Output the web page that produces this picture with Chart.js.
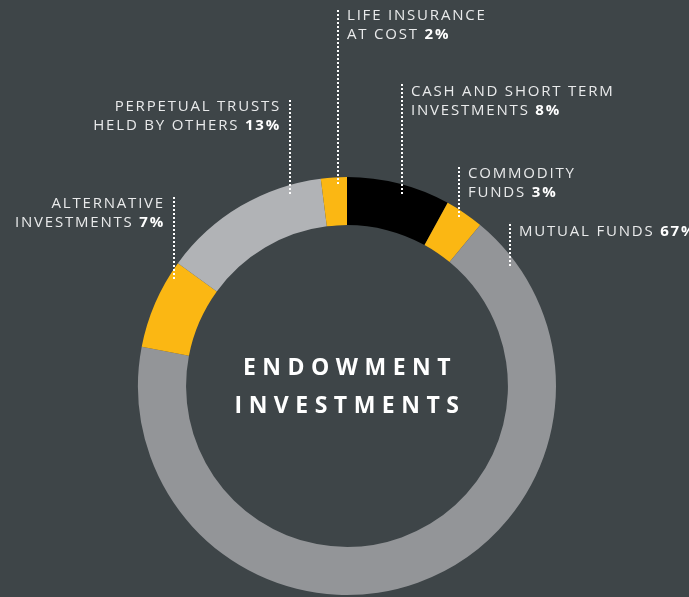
<!DOCTYPE html>
<html>
<head>
<meta charset="utf-8">
<script src="https://cdn.jsdelivr.net/npm/chart.js@4"></script>
<style>
  html, body { margin: 0; padding: 0; background: #3e4548; overflow: hidden; }
  canvas { display: block; }
</style>
</head>
<body>
<canvas id="endowment" width="689" height="597"></canvas>
<script>
// slices, clockwise from 12 o'clock
const categories = [
  'CASH AND SHORT TERM INVESTMENTS',
  'COMMODITY FUNDS',
  'MUTUAL FUNDS',
  'ALTERNATIVE INVESTMENTS',
  'PERPETUAL TRUSTS HELD BY OTHERS',
  'LIFE INSURANCE AT COST'
]
const values = [8, 3, 67, 7, 13, 2]
const sliceColors = ['#000000', '#fbb713', '#939598', '#fbb713', '#b1b3b6', '#fbb713']

// how each label is broken into lines (last line gets the bold percentage)
const labelLines = [
  ['CASH AND SHORT TERM', 'INVESTMENTS'],
  ['COMMODITY', 'FUNDS'],
  ['MUTUAL FUNDS'],
  ['ALTERNATIVE', 'INVESTMENTS'],
  ['PERPETUAL TRUSTS', 'HELD BY OTHERS'],
  ['LIFE INSURANCE', 'AT COST']
]

// callout placement: leader x, leader top/bottom, text x, first baseline, alignment
const callouts = [
  { lx: 402, y1: 84, y2: 194, tx: 411, ty: 96, align: 'left' },
  { lx: 459, y1: 167, y2: 219, tx: 468, ty: 178, align: 'left' },
  { lx: 510, y1: 224, y2: 265, tx: 519, ty: 236, align: 'left' },
  { lx: 174, y1: 197, y2: 278, tx: 165, ty: 208, align: 'right' },
  { lx: 290, y1: 100, y2: 195, tx: 281, ty: 111, align: 'right' },
  { lx: 338, y1: 10, y2: 186, tx: 347, ty: 20, align: 'left' }
]

const FONT = '"Open Sans", sans-serif'

const calloutPlugin = {
  id: 'callouts',
  afterDraw(chart) {
    const ctx = chart.ctx
    ctx.save()
    ctx.letterSpacing = '1.8px'
    callouts.forEach((c, i) => {
      // dotted leader
      ctx.fillStyle = '#ffffff'
      for (let y = c.y1; y < c.y2; y += 4) {
        ctx.fillRect(c.lx - 1, y, 2, 2)
      }
      const lines = labelLines[i]
      lines.forEach((line, j) => {
        const y = c.ty + j * 19
        const isLast = j === lines.length - 1
        const reg = isLast ? line + ' ' : line
        const pct = isLast ? values[i] + '%' : ''
        ctx.font = '400 15px ' + FONT
        const wReg = ctx.measureText(reg).width
        ctx.font = '700 15px ' + FONT
        const wPct = ctx.measureText(pct).width
        let x = c.align === 'right' ? c.tx - wReg - wPct : c.tx
        ctx.textAlign = 'left'
        ctx.textBaseline = 'alphabetic'
        ctx.font = '400 15px ' + FONT
        ctx.fillStyle = '#e9eaeb'
        ctx.fillText(reg, x, y)
        if (pct) {
          ctx.font = '700 15px ' + FONT
          ctx.fillStyle = '#ffffff'
          ctx.fillText(pct, x + wReg, y)
        }
      })
    })

    // centre title
    const meta = chart.getDatasetMeta(0).data[0]
    ctx.fillStyle = '#ffffff'
    ctx.textAlign = 'center'
    ctx.font = '700 23px ' + FONT
    ctx.letterSpacing = '6.5px'
    ctx.fillText('ENDOWMENT', meta.x + 3, 375)
    ctx.fillText('INVESTMENTS', meta.x + 3, 413)
    ctx.restore()
  }
}

const chart = new Chart(document.getElementById('endowment').getContext('2d'), {
  type: 'doughnut',
  data: {
    labels: categories,
    datasets: [{
      data: values,
      backgroundColor: sliceColors,
      borderWidth: 0,
      hoverOffset: 0
    }]
  },
  options: {
    responsive: false,
    animation: false,
    cutout: '77%',
    rotation: 0,
    layout: {
      padding: { left: 138, right: 133, top: 177, bottom: 2 }
    },
    plugins: {
      legend: { display: false },
      tooltip: { enabled: false }
    }
  },
  plugins: [calloutPlugin]
})
</script>
</body>
</html>
